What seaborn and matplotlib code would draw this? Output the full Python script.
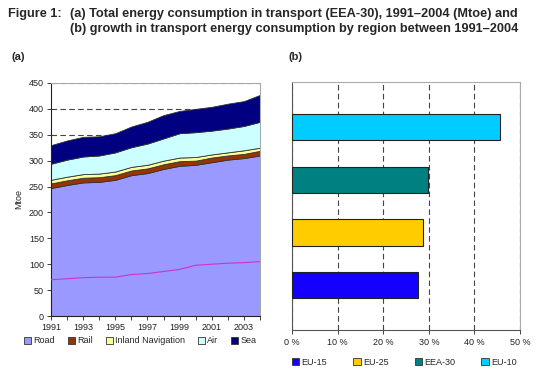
import numpy as np
import pandas as pd
import matplotlib
matplotlib.use("Agg")
import matplotlib.pyplot as plt
import seaborn as sns
from matplotlib.patches import Patch

# Panel (a) data, Mtoe
years = list(range(1991, 2005))
road = [247, 253, 258, 259, 263, 272, 276, 284, 290, 292, 297, 302, 305, 310]
rail = [9, 9, 9, 9, 9, 9, 9, 9, 9, 8, 9, 8, 8, 9]
inland_nav = [7, 7, 7, 7, 7, 7, 7, 7, 7, 7, 6, 6, 7, 6]
air = [31, 33, 34, 35, 37, 38, 41, 43, 47, 48, 46, 46, 47, 50]
sea = [36, 37, 38, 37, 37, 40, 42, 45, 43, 45, 46, 48, 48, 52]
road_line = [70, 72, 74, 75, 75, 80, 82, 86, 90, 98, 100, 102, 103, 105]

# Panel (b) data, growth 1991-2004 in %
regions = ["EU-10", "EEA-30", "EU-25", "EU-15"]
growth = [45.5, 29.8, 28.8, 27.6]

area_names = ["Road", "Rail", "Inland Navigation", "Air", "Sea"]
area_colors = ["#9999FF", "#993300", "#FFFF99", "#CCFFFF", "#000080"]
bar_colors = {"EU-10": "#00CCFF", "EEA-30": "#008080", "EU-25": "#FFCC00", "EU-15": "#1400FF"}

sns.set_theme(style="white")
plt.rcParams['font.family'] = ['Liberation Sans', 'DejaVu Sans']

fig = plt.figure(figsize=(5.5, 3.91), dpi=100)

fig.text(0.015, 0.963, "Figure 1:", fontsize=9.2, fontweight="bold", va="center")
fig.text(0.128, 0.963, "(a) Total energy consumption in transport (EEA-30), 1991\u20132004 (Mtoe) and",
         fontsize=9.2, fontweight="bold", va="center")
fig.text(0.128, 0.925, "(b) growth in transport energy consumption by region between 1991\u20132004",
         fontsize=9.2, fontweight="bold", va="center")
fig.text(0.02, 0.855, "(a)", fontsize=8, fontweight="bold", va="center")
fig.text(0.525, 0.855, "(b)", fontsize=8, fontweight="bold", va="center")

# ---- Panel (a): stacked area
ax1 = fig.add_axes([0.0927, 0.1918, 0.38, 0.596])
ax1.stackplot(years, road, rail, inland_nav, air, sea, colors=area_colors,
              edgecolor="#333333", linewidth=0.6, zorder=2)
sns.lineplot(x=years, y=road_line, color="#CC33CC", linewidth=0.8, ax=ax1, zorder=3)
ax1.set_xlim(1991, 2004)
ax1.set_ylim(0, 450)
ax1.set_yticks(np.arange(0, 451, 50))
ax1.set_xticks(years)
ax1.set_xticklabels([str(y) if (y - 1991) % 2 == 0 else "" for y in years])
ax1.yaxis.grid(True, linestyle=(0, (5, 3)), color="#444444", linewidth=0.8, zorder=0)
ax1.set_axisbelow(True)
ax1.set_ylabel("Mtoe", fontsize=6.5, labelpad=4)
ax1.tick_params(axis="both", labelsize=6.5, length=3, width=0.6, direction="out",
                bottom=True, left=True, pad=2, colors="#222222")
for side in ["left", "bottom"]:
    ax1.spines[side].set_color("#222222")
    ax1.spines[side].set_linewidth(0.8)
for side in ["top", "right"]:
    ax1.spines[side].set_color("#AAAAAA")
    ax1.spines[side].set_linewidth(0.8)

handles1 = [Patch(facecolor=c, edgecolor="#333333", linewidth=0.6) for c in area_colors]
fig.legend(handles1, area_names, loc="center", bbox_to_anchor=(0.255, 0.128), ncol=5,
           frameon=False, fontsize=6.5, handlelength=0.8, handleheight=0.8,
           handletextpad=0.25, columnspacing=1.4)

# ---- Panel (b): horizontal bars
ax2 = fig.add_axes([0.531, 0.156, 0.4145, 0.634])
df_b = pd.DataFrame({"Region": regions, "Growth": growth})
sns.barplot(data=df_b, x="Growth", y="Region", hue="Region", order=regions,
            palette=bar_colors, saturation=1, width=0.5, edgecolor="#222222",
            linewidth=0.8, legend=False, ax=ax2, zorder=3)
ax2.set_xlim(0, 50)
ax2.set_ylim(3.855, -0.855)
ax2.set_xticks(np.arange(0, 51, 10))
ax2.set_xticklabels([f"{v} %" for v in range(0, 51, 10)])
ax2.set_yticks([])
ax2.set_xlabel("")
ax2.set_ylabel("")
ax2.xaxis.grid(True, linestyle=(0, (5, 3)), color="#444444", linewidth=0.8, zorder=0)
ax2.set_axisbelow(True)
ax2.tick_params(axis="x", labelsize=6.5, length=3, width=0.6, direction="out",
                bottom=True, pad=3, colors="#222222")
for side in ["left", "bottom"]:
    ax2.spines[side].set_color("#555555")
    ax2.spines[side].set_linewidth(0.8)
for side in ["top", "right"]:
    ax2.spines[side].set_color("#AAAAAA")
    ax2.spines[side].set_linewidth(0.8)

legend_order = ["EU-15", "EU-25", "EEA-30", "EU-10"]
handles2 = [Patch(facecolor=bar_colors[r], edgecolor="#333333", linewidth=0.6) for r in legend_order]
fig.legend(handles2, legend_order, loc="center", bbox_to_anchor=(0.735, 0.073), ncol=4,
           frameon=False, fontsize=6.5, handlelength=0.8, handleheight=0.8,
           handletextpad=0.25, columnspacing=2.9)

fig.savefig("out.png", dpi=100)
